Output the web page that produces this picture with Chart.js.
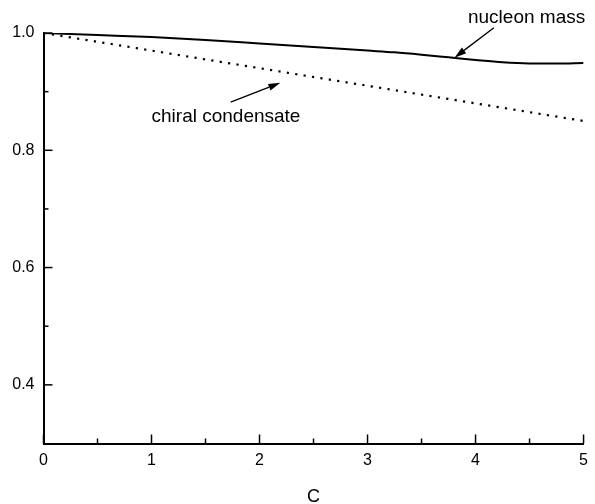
<!DOCTYPE html>
<html>
<head>
<meta charset="utf-8">
<script src="https://cdn.jsdelivr.net/npm/chart.js@4"></script>
<style>
  html, body { margin: 0; padding: 0; background: #fff; }
  #chart { display: block; }
</style>
</head>
<body>
<canvas id="chart" width="595" height="504"></canvas>
<script>
// valores
const cNucleon = [0, 0.5, 1, 1.5, 2, 2.5, 3, 3.25, 3.5, 3.75, 4, 4.25, 4.5, 4.75, 5];
const nucleonMass = [1.000, 0.9965, 0.993, 0.988, 0.982, 0.976, 0.970, 0.967, 0.963, 0.9585, 0.954, 0.950, 0.948, 0.9478, 0.949];
const cChiral = [0, 1, 2, 3, 4, 5];
const chiralCondensate = [1.000, 0.970, 0.940, 0.910, 0.880, 0.850];
const yLabels = [0.4, 0.6, 0.8, 1.0];

const FONT = '"Liberation Sans", Arial, sans-serif';

// flechas y textos en coordenadas de datos
const notes = [
    { text: 'nucleon mass', x: 3.93, y: 1.0256, from: [4.17, 1.009], to: [3.805, 0.958] },
    { text: 'chiral condensate', x: 1.0, y: 0.858, from: [1.733, 0.882], to: [2.193, 0.915] }
];

function isMajorY(v) {
    return yLabels.some(l => Math.abs(l - v) < 1e-6);
}

// ticks hacia dentro
const innerTicks = {
    id: 'innerTicks',
    afterDraw(chart) {
        const ctx = chart.ctx;
        const xs = chart.scales.x, ys = chart.scales.y;
        ctx.save();
        ctx.strokeStyle = '#000';
        ctx.lineWidth = 1.5;
        xs.ticks.forEach(t => {
            const px = xs.getPixelForValue(t.value);
            const len = Number.isInteger(t.value) ? 9 : 5;
            ctx.beginPath();
            ctx.moveTo(px, ys.bottom);
            ctx.lineTo(px, ys.bottom - len);
            ctx.stroke();
        });
        ys.ticks.forEach(t => {
            if (t.value < 0.35) return;
            const py = ys.getPixelForValue(t.value);
            const len = isMajorY(t.value) ? 9 : 5;
            ctx.beginPath();
            ctx.moveTo(xs.left, py);
            ctx.lineTo(xs.left + len, py);
            ctx.stroke();
        });
        ctx.restore();
    }
};

const arrows = {
    id: 'arrows',
    afterDraw(chart) {
        const ctx = chart.ctx;
        const xs = chart.scales.x, ys = chart.scales.y;
        ctx.save();
        ctx.fillStyle = '#000';
        ctx.strokeStyle = '#000';
        ctx.lineWidth = 1.3;
        ctx.font = '19px ' + FONT;
        ctx.textAlign = 'left';
        ctx.textBaseline = 'middle';
        notes.forEach(n => {
            ctx.fillText(n.text, xs.getPixelForValue(n.x), ys.getPixelForValue(n.y));
            const x1 = xs.getPixelForValue(n.from[0]), y1 = ys.getPixelForValue(n.from[1]);
            const x2 = xs.getPixelForValue(n.to[0]), y2 = ys.getPixelForValue(n.to[1]);
            const a = Math.atan2(y2 - y1, x2 - x1);
            const hl = 12, hw = 3.5;
            const bx = x2 - hl * Math.cos(a), by = y2 - hl * Math.sin(a);
            ctx.beginPath();
            ctx.moveTo(x1, y1);
            ctx.lineTo(bx, by);
            ctx.stroke();
            ctx.beginPath();
            ctx.moveTo(x2, y2);
            ctx.lineTo(bx + hw * Math.sin(a), by - hw * Math.cos(a));
            ctx.lineTo(bx - hw * Math.sin(a), by + hw * Math.cos(a));
            ctx.closePath();
            ctx.fill();
        });
        ctx.restore();
    }
};

new Chart(document.getElementById('chart').getContext('2d'), {
    type: 'line',
    data: {
        datasets: [{
            label: 'nucleon mass',
            data: cNucleon.map((c, i) => ({ x: c, y: nucleonMass[i] })),
            borderColor: '#000',
            borderWidth: 2,
            pointRadius: 0,
            cubicInterpolationMode: 'monotone',
            fill: false
        }, {
            label: 'chiral condensate',
            data: cChiral.map((c, i) => ({ x: c, y: chiralCondensate[i] })),
            borderColor: '#000',
            borderWidth: 2.2,
            borderDash: [2.2, 6.3],
            borderCapStyle: 'butt',
            pointRadius: 0,
            fill: false
        }]
    },
    options: {
        responsive: false,
        animation: false,
        layout: { padding: { top: 33, right: 8.5, left: 0, bottom: 0 } },
        plugins: {
            legend: { display: false },
            tooltip: { enabled: false }
        },
        scales: {
            x: {
                type: 'linear',
                min: 0,
                max: 5,
                afterFit: s => { s.height = 60.5; },
                grid: { display: false, drawTicks: false },
                border: { display: true, color: '#000', width: 2 },
                ticks: {
                    stepSize: 0.5,
                    padding: 7,
                    color: '#000',
                    font: { family: FONT, size: 16 },
                    maxRotation: 0,
                    callback: v => Number.isInteger(v) ? String(v) : ''
                },
                title: {
                    display: true,
                    text: 'C',
                    color: '#000',
                    font: { family: FONT, size: 18 },
                    padding: { top: 0, bottom: -4 }
                }
            },
            y: {
                min: 0.3,
                max: 1.0,
                afterFit: s => { s.width = 43.5; },
                grid: { display: false, drawTicks: false },
                border: { display: true, color: '#000', width: 2 },
                ticks: {
                    stepSize: 0.1,
                    padding: 9,
                    color: '#000',
                    font: { family: FONT, size: 16 },
                    callback: v => isMajorY(v) ? v.toFixed(1) : ''
                }
            }
        }
    },
    plugins: [innerTicks, arrows]
});
</script>
</body>
</html>
